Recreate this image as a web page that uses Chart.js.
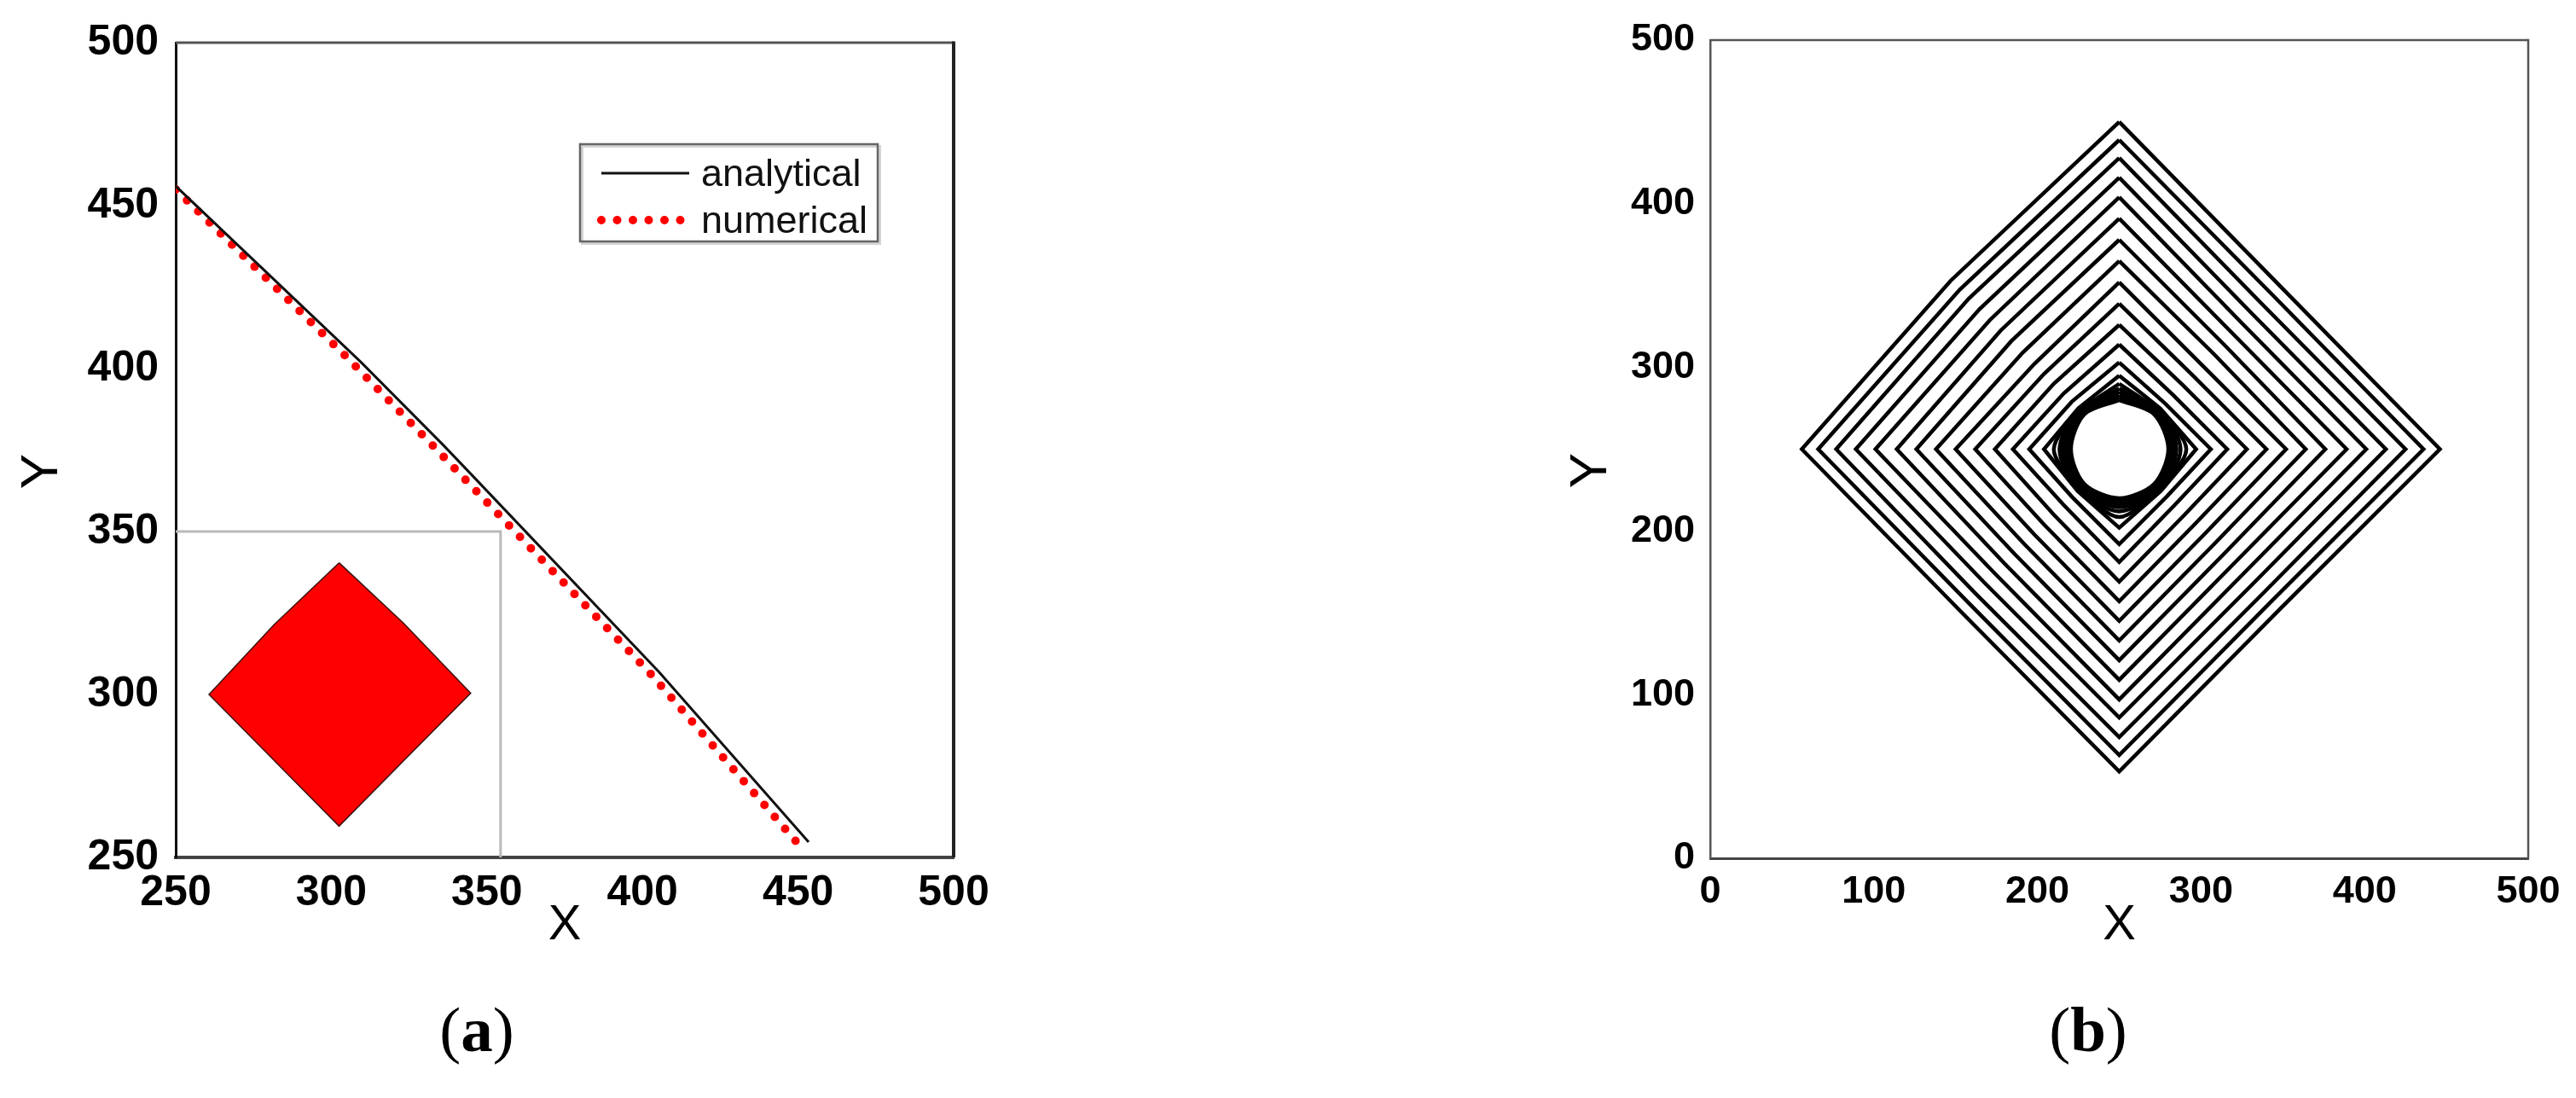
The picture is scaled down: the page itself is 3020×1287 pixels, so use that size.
<!DOCTYPE html>
<html>
<head>
<meta charset="utf-8">
<script src="https://cdn.jsdelivr.net/npm/chart.js@4.4.1/dist/chart.umd.min.js"></script>
<style>
  body { margin: 0; background: #fff; }
  #page { position: relative; width: 3020px; height: 1287px; overflow: hidden; background: #fff; }
  canvas { position: absolute; top: 0; }
  .caption {
    position: absolute; top: 1169px; width: 240px; text-align: center;
    font-family: "Liberation Serif", "Times New Roman", serif;
    font-size: 75px; line-height: 75px; color: #000;
  }
</style>
</head>
<body>
<div id="page">
  <canvas id="chartA" width="1200" height="1120" style="left:0"></canvas>
  <canvas id="chartB" width="1220" height="1120" style="left:1800px"></canvas>
  <div class="caption" style="left:439px">(<b>a</b>)</div>
  <div class="caption" style="left:2328px">(<b>b</b>)</div>
</div>
<script>
// ---- panel (a) : front position ----
const analyticalX = [250, 309.5, 336.1, 346.5, 405.4, 453.4];
const analyticalY = [456, 402, 376.4, 366, 306.8, 254.7];
const numericalX = [250, 306, 332.6, 343, 402.2, 452];
const numericalY = [455, 402.5, 376.4, 366, 306.8, 252];

// inset picture frame and the red shape inside it
const insetX = [250, 354.4, 354.4];
const insetY = [350, 350, 250];
const shapeX = [302.5, 323.3, 344.8, 323.3, 302.5, 281.6, 260.7, 281.6, 302.5];
const shapeY = [340.4, 321.8, 300.4, 279.7, 259.6, 279.8, 300, 321.4, 340.4];

const ticksA = [250, 300, 350, 400, 450, 500];

// ---- panel (b) : contours around the obstacle ----
const centreX = 250;
const centreY = 250;
// distance from the centre to each contour, read along the four axes
const contourTop    = [200, 189, 178, 166, 154, 141, 128, 115, 102, 89, 76, 64, 53, 45, 40, 37, 35, 33, 31.5, 30];
const contourRight  = [196, 186, 175, 163, 151, 139, 126, 114, 102, 90, 78, 66, 56, 47, 41, 37.5, 35, 33, 31.5, 30];
const contourBottom = [197, 187, 176, 164, 153, 141, 129, 117, 105, 93, 81, 69, 58, 48, 41.5, 38, 35.5, 33.5, 31.5, 30];
const contourLeft   = [194, 184, 173, 161, 149, 136, 124, 112, 100, 88, 76, 65, 55, 46, 40, 36.5, 34.5, 32.5, 31, 29.5];
// reach of each contour along the diagonals (x and y offset of the 45 degree point)
const diagUR = [99, 94, 88, 82, 76, 70, 64, 58, 51, 45, 39, 33, 28, 25, 23.5, 24, 23.5, 23, 22.3, 21.3];
const diagLR = [98, 93, 88, 82, 76, 70, 64, 58, 52, 46, 40, 34, 29, 25.5, 24, 24.5, 23.8, 23.2, 22.3, 21.3];
const diagLL = [98, 93, 88, 82, 76, 70, 64, 58, 52, 46, 40, 34, 29, 25.5, 24, 24.5, 23.8, 23.2, 22.3, 21.3];
const diagUL = [103, 97.5, 92, 85.5, 79, 72.5, 66, 59, 52, 46, 40, 34, 29, 25, 23.5, 24, 23.5, 23, 22.3, 21.3];

const ticksB = [0, 100, 200, 300, 400, 500];

Chart.defaults.font.family = '"Liberation Sans", Arial, sans-serif';
Chart.defaults.color = '#000';

const toPoints = (xs, ys) => xs.map((x, i) => ({ x: x, y: ys[i] }));

// top and right edges of the plot box
const framePlugin = {
  id: 'frame',
  afterDatasetsDraw(chart, args, opts) {
    const { ctx, chartArea: a } = chart;
    ctx.save();
    ctx.strokeStyle = opts.topColor;
    ctx.lineWidth = opts.topWidth;
    ctx.beginPath();
    ctx.moveTo(a.left, a.top);
    ctx.lineTo(a.right, a.top);
    ctx.stroke();
    ctx.strokeStyle = opts.rightColor;
    ctx.lineWidth = opts.rightWidth;
    ctx.beginPath();
    ctx.moveTo(a.right, a.top - opts.topWidth / 2);
    ctx.lineTo(a.right, a.bottom);
    ctx.stroke();
    ctx.restore();
  }
};

// rotated "Y" title, sitting a little below the middle of the axis
const yTitlePlugin = {
  id: 'yTitle',
  afterDraw(chart, args, opts) {
    const { ctx, chartArea } = chart;
    ctx.save();
    ctx.translate(opts.x, (chartArea.top + chartArea.bottom) / 2 + opts.shift);
    ctx.rotate(-Math.PI / 2);
    ctx.font = opts.size + 'px "Liberation Sans", Arial, sans-serif';
    ctx.fillStyle = '#000';
    ctx.textAlign = 'center';
    ctx.textBaseline = 'middle';
    ctx.fillText(opts.text, 0, 0);
    ctx.restore();
  }
};

// boxed legend inside panel (a)
const legendBox = {
  id: 'legendBox',
  afterDatasetsDraw(chart) {
    const { ctx, chartArea } = chart;
    const x = chartArea.left + 474;
    const y = chartArea.top + 119;
    const w = 349, h = 114;
    ctx.save();
    ctx.fillStyle = '#fff';
    ctx.fillRect(x, y, w, h);
    ctx.strokeStyle = '#d4d4d4';
    ctx.lineWidth = 3;
    ctx.strokeRect(x + 2.5, y + 2.5, w, h);
    ctx.strokeStyle = '#666';
    ctx.lineWidth = 2.5;
    ctx.strokeRect(x, y, w, h);

    const rows = [0, 1].map(i => chart.data.datasets[i]);
    ctx.font = '45px "Liberation Sans", Arial, sans-serif';
    ctx.textBaseline = 'alphabetic';
    rows.forEach((ds, r) => {
      const ly = y + 34 + r * 55;
      ctx.strokeStyle = ds.borderColor;
      ctx.lineWidth = ds.borderWidth;
      ctx.lineCap = ds.borderCapStyle || 'butt';
      ctx.setLineDash(ds.borderDash || []);
      ctx.beginPath();
      ctx.moveTo(x + 25, ly);
      ctx.lineTo(x + 128, ly);
      ctx.stroke();
      ctx.setLineDash([]);
      ctx.fillStyle = '#111';
      ctx.fillText(ds.label, x + 142, ly + 15);
    });
    ctx.restore();
  }
};

const axisFont = (size) => ({ size: size, weight: 'bold' });

new Chart(document.getElementById('chartA').getContext('2d'), {
  type: 'scatter',
  data: {
    datasets: [
      {
        label: 'analytical',
        data: toPoints(analyticalX, analyticalY),
        showLine: true,
        borderColor: '#111',
        borderWidth: 3,
        pointRadius: 0,
        tension: 0
      },
      {
        label: 'numerical',
        data: toPoints(numericalX, numericalY),
        showLine: true,
        borderColor: '#ff0000',
        borderWidth: 10,
        borderDash: [0, 18.5],
        borderCapStyle: 'round',
        pointRadius: 0,
        tension: 0
      },
      {
        label: 'inset',
        data: toPoints(insetX, insetY),
        showLine: true,
        borderColor: '#b9b9b9',
        borderWidth: 3,
        pointRadius: 0
      },
      {
        label: 'shape',
        data: toPoints(shapeX, shapeY),
        showLine: true,
        borderColor: '#3a1010',
        borderWidth: 1.5,
        backgroundColor: '#ff0000',
        fill: 'shape',
        pointRadius: 0,
        tension: 0
      }
    ]
  },
  options: {
    responsive: false,
    animation: false,
    devicePixelRatio: 1,
    events: [],
    layout: { padding: { top: 46, right: 82, left: 0, bottom: 0 } },
    plugins: {
      legend: { display: false },
      tooltip: { enabled: false },
      frame: { topColor: '#555', topWidth: 3, rightColor: '#222', rightWidth: 4 },
      yTitle: { text: 'Y', x: 50, shift: 25, size: 62 }
    },
    scales: {
      x: {
        type: 'linear',
        min: ticksA[0],
        max: ticksA[ticksA.length - 1],
        afterBuildTicks: (scale) => { scale.ticks = ticksA.map(v => ({ value: v })); },
        ticks: { padding: 12, color: '#000', font: axisFont(50) },
        grid: { display: false, drawTicks: false },
        border: { color: '#444', width: 4 },
        title: { display: true, text: 'X', color: '#000', font: { size: 58 }, padding: 0 },
        afterFit: (scale) => { scale.height = 115; }
      },
      y: {
        type: 'linear',
        min: ticksA[0],
        max: ticksA[ticksA.length - 1],
        afterBuildTicks: (scale) => { scale.ticks = ticksA.map(v => ({ value: v })); },
        ticks: { padding: 20, color: '#000', font: axisFont(50) },
        grid: { display: false, drawTicks: false },
        border: { color: '#111', width: 3 },
        afterFit: (scale) => { scale.width = 206; }
      }
    }
  },
  plugins: [framePlugin, legendBox, yTitlePlugin]
});

const contourSets = contourTop.map((t, i) => ({
  label: 'contour ' + (i + 1),
  data: [
    { x: centreX, y: centreY + t },
    { x: centreX + diagUR[i], y: centreY + diagUR[i] },
    { x: centreX + contourRight[i], y: centreY },
    { x: centreX + diagLR[i], y: centreY - diagLR[i] },
    { x: centreX, y: centreY - contourBottom[i] },
    { x: centreX - diagLL[i], y: centreY - diagLL[i] },
    { x: centreX - contourLeft[i], y: centreY },
    { x: centreX - diagUL[i], y: centreY + diagUL[i] },
    { x: centreX, y: centreY + t }
  ],
  showLine: true,
  borderColor: '#000',
  borderWidth: 4.5,
  pointRadius: 0,
  tension: i >= 14 ? 0.3 : 0
}));

new Chart(document.getElementById('chartB').getContext('2d'), {
  type: 'scatter',
  data: { datasets: contourSets },
  options: {
    responsive: false,
    animation: false,
    devicePixelRatio: 1,
    events: [],
    layout: { padding: { top: 47, right: 56, left: 0, bottom: 0 } },
    plugins: {
      legend: { display: false },
      tooltip: { enabled: false },
      frame: { topColor: '#555', topWidth: 2.5, rightColor: '#555', rightWidth: 2.5 },
      yTitle: { text: 'Y', x: 66, shift: 25, size: 62 }
    },
    scales: {
      x: {
        type: 'linear',
        min: ticksB[0],
        max: ticksB[ticksB.length - 1],
        afterBuildTicks: (scale) => { scale.ticks = ticksB.map(v => ({ value: v })); },
        ticks: { padding: 13, color: '#000', font: axisFont(45) },
        grid: { display: false, drawTicks: false },
        border: { color: '#444', width: 3 },
        title: { display: true, text: 'X', color: '#000', font: { size: 58 }, padding: 0 },
        afterFit: (scale) => { scale.height = 114; }
      },
      y: {
        type: 'linear',
        min: ticksB[0],
        max: ticksB[ticksB.length - 1],
        afterBuildTicks: (scale) => { scale.ticks = ticksB.map(v => ({ value: v })); },
        ticks: { padding: 18, color: '#000', font: axisFont(45) },
        grid: { display: false, drawTicks: false },
        border: { color: '#555', width: 2.5 },
        afterFit: (scale) => { scale.width = 205; }
      }
    }
  },
  plugins: [framePlugin, yTitlePlugin]
});
</script>
</body>
</html>
